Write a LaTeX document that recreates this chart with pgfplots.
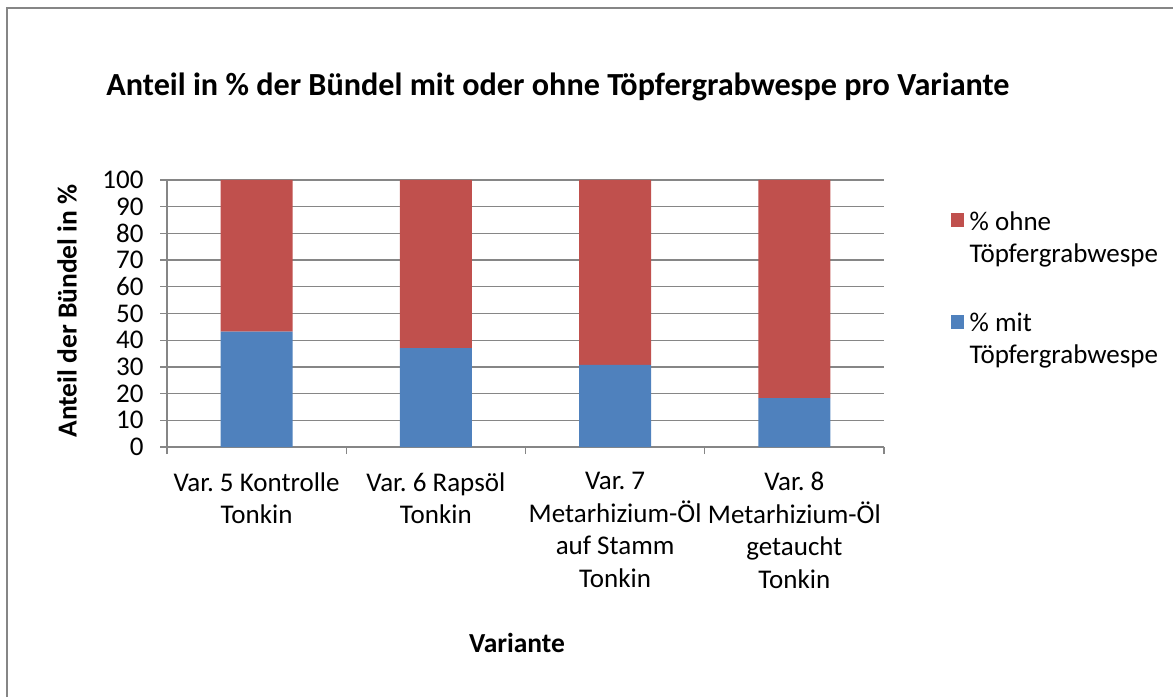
\documentclass[border=0pt]{standalone}
\usepackage{fontspec}
\setmainfont{Carlito}
\usepackage{pgfplots}
\pgfplotsset{compat=1.18}
\definecolor{xblue}{HTML}{4F81BD}
\definecolor{xred}{HTML}{C0504D}
\definecolor{xgray}{HTML}{868686}
\frenchspacing
\begin{document}
\begin{tikzpicture}[x=1pt,y=1pt]
\useasboundingbox (0,0) rectangle (1173,697);
\draw[xgray, line width=2pt] (7,0) -- (7,689) -- (1173,689);
\node[font=\fontsize{32.2}{38}\selectfont\bfseries] at (558,610) {Anteil in \% der Bündel mit oder ohne Töpfergrabwespe pro Variante};
\node[font=\fontsize{27.5}{32.5}\selectfont\bfseries, rotate=90] at (67,386) {Anteil der Bündel in \%};
\node[font=\fontsize{27.5}{32.5}\selectfont\bfseries] at (517,54) {Variante};
\begin{axis}[
  at={(167pt,250pt)}, anchor=south west,
  width=717pt, height=267pt, scale only axis,
  xmin=0.5, xmax=4.5, ymin=0, ymax=100,
  ybar stacked, bar width=72pt,
  xtick={1,2,3,4},
  xticklabels={{Var. 5 Kontrolle\\Tonkin},{Var. 6 Rapsöl\\Tonkin},{Var. 7\\Metarhizium-Öl\\auf Stamm\\Tonkin},{Var. 8\\Metarhizium-Öl\\getaucht\\Tonkin}},
  minor xtick={0.5,1.5,2.5,3.5,4.5},
  ytick={0,10,...,100},
  ymajorgrids, major grid style={xgray, line width=1.2pt},
  axis x line*=bottom, axis y line*=left,
  axis line style={xgray, line width=1.2pt},
  tick align=outside, major tick length=7pt, minor tick length=7pt,
  major x tick style={draw=none},
  minor x tick style={xgray, line width=1.2pt},
  major y tick style={xgray, line width=1.2pt},
  ticklabel style={font=\fontsize{27}{32.5}\selectfont},
  xticklabel style={align=center, yshift=-15pt},
  yticklabel style={xshift=-13pt},
  /pgf/number format/assume math mode=true,
  reverse legend,
  legend style={draw=none, fill=none, at={(1.0928,0.906)}, anchor=north west, inner sep=0pt,
    font=\fontsize{27}{32.5}\selectfont, row sep=73pt,
    /tikz/every odd column/.append style={column sep=4pt}},
  legend cell align=left,
  legend image code/.code={\fill[#1] (0pt,-8pt) rectangle (13pt,6pt);},
]
\addplot[fill=xblue, draw=none] coordinates {(1,43.2) (2,37.0) (3,30.8) (4,18.3)};
\addplot[fill=xred, draw=none] coordinates {(1,56.8) (2,63.0) (3,69.2) (4,81.7)};
\legend{{\begin{tabular}[t]{@{}l@{}}\% mit\\Töpfergrabwespe\end{tabular}},{\begin{tabular}[t]{@{}l@{}}\% ohne\\Töpfergrabwespe\end{tabular}}}
\end{axis}
\end{tikzpicture}
\end{document}
